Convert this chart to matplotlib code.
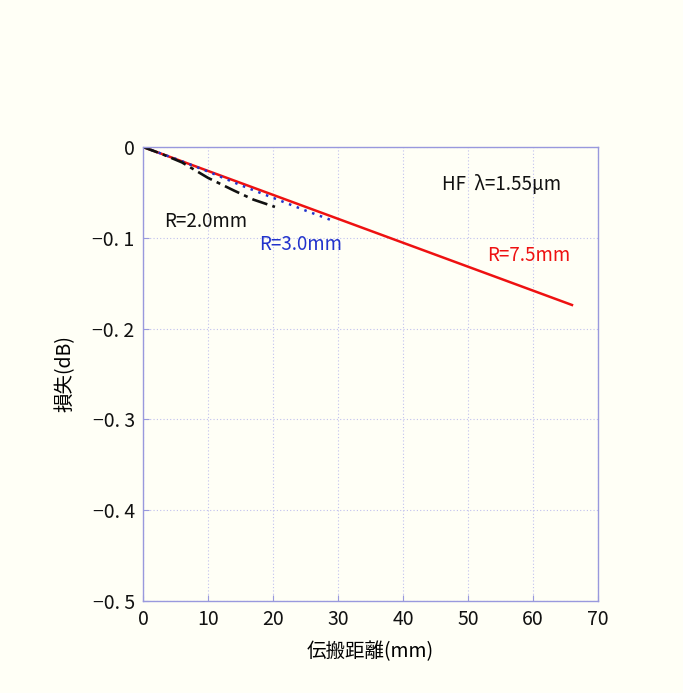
import matplotlib
matplotlib.use("Agg")
import matplotlib.pyplot as plt
import numpy as np

plt.rcParams['font.family'] = ['Noto Sans CJK JP', 'DejaVu Sans']

# data
x_r75 = [0, 66]
y_r75 = [0, -0.174]
x_r30 = [0, 5, 10, 15, 20, 25, 29.5]
y_r30 = [0, -0.013, -0.027, -0.042, -0.056, -0.070, -0.082]
x_r20 = [0, 3, 6, 10, 14, 17, 20.3]
y_r20 = [0, -0.008, -0.017, -0.034, -0.048, -0.058, -0.066]

xticks = [0, 10, 20, 30, 40, 50, 60, 70]
yticks = [0, -0.1, -0.2, -0.3, -0.4, -0.5]
ytick_labels = ['0', '−0. 1', '−0. 2', '−0. 3', '−0. 4', '−0. 5']

bg = '#fffff6'
fig = plt.figure(figsize=(6.83, 6.93), dpi=100, facecolor=bg)
ax = fig.add_axes([0.2094, 0.1328, 0.6661, 0.6551])
ax.set_facecolor(bg)

ax.plot(x_r75, y_r75, color='#ee1111', lw=1.8)
ax.plot(x_r30, y_r30, color='#2233cc', lw=1.8, ls=(0, (1, 2.3)))
ax.plot(x_r20, y_r20, color='#111111', lw=1.9, ls=(0, (6, 2, 1.5, 2)))

ax.set_xlim(0, 70)
ax.set_ylim(-0.5, 0)
ax.set_xticks(xticks)
ax.set_yticks(yticks)
ax.set_yticklabels(ytick_labels)
ax.grid(True, color='#c0c0ee', ls=(0, (1, 2)), lw=0.8)
for s in ax.spines.values():
    s.set_color('#9999dd')
    s.set_linewidth(1.0)
ax.tick_params(direction='in', length=4, color='#9999dd', labelsize=14, labelcolor='#111111', pad=6)

ax.set_xlabel('伝搬距離(mm)', fontsize=14, labelpad=8)
ax.set_ylabel('損失(dB)', fontsize=14, labelpad=12)

ax.text(46.0, -0.041, 'HF  λ=1.55μm', fontsize=13.5, color='#111111', va='center')
ax.text(3.2, -0.082, 'R=2.0mm', fontsize=13.5, color='#111111', va='center')
ax.text(17.8, -0.107, 'R=3.0mm', fontsize=13.5, color='#2233cc', va='center')
ax.text(53.0, -0.119, 'R=7.5mm', fontsize=13.5, color='#ee1111', va='center')

fig.savefig('out.png', dpi=100, facecolor=bg)
